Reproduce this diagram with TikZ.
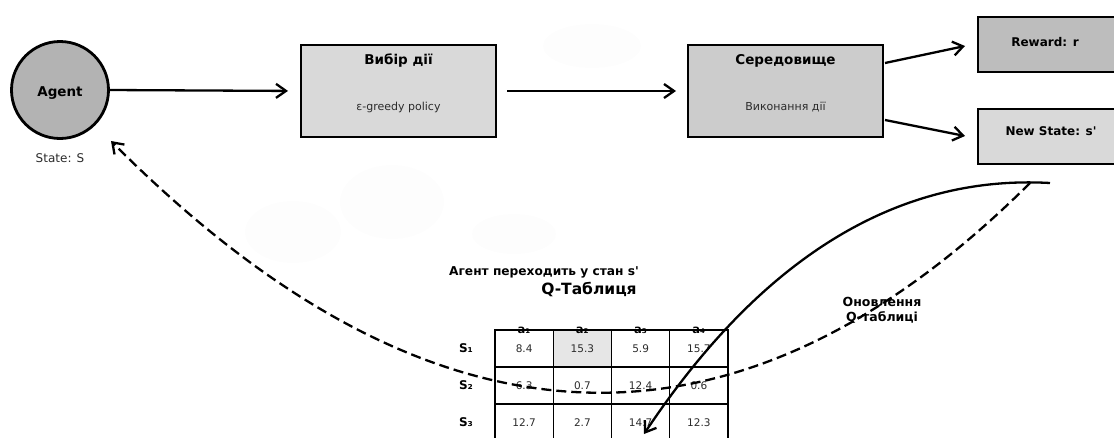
\documentclass[tikz,border=0pt]{standalone}
\usepackage{fontspec}
\setmainfont{DejaVu Sans}
\usetikzlibrary{arrows.meta}

\definecolor{agentgray}{HTML}{B3B3B3}
\definecolor{choicegray}{HTML}{D9D9D9}
\definecolor{envgray}{HTML}{CCCCCC}
\definecolor{rewardgray}{HTML}{BDBDBD}
\definecolor{stategray}{HTML}{D9D9D9}
\definecolor{cellgray}{HTML}{E6E6E6}
\definecolor{softtext}{HTML}{2B2B2B}
\definecolor{haze}{HTML}{FDFDFD}

\newcommand{\fsz}[1]{\fontsize{#1}{#1}\selectfont}

\begin{document}
\begin{tikzpicture}[x=1pt,y=-1pt,
  every node/.style={inner sep=0pt, outer sep=0pt},
  frame/.style={draw=black, line width=2.8pt, minimum width=195pt, minimum height=92pt},
  sidebox/.style={draw=black, line width=2.8pt, minimum width=152pt, minimum height=55pt},
  title/.style={anchor=base, font=\fsz{13.5}\bfseries},
  subtitle/.style={anchor=base, font=\fsz{11}, text=softtext},
  flow/.style={line width=2.3pt, -{Straight Barb[length=10pt,width=14pt]}},
  cell/.style={draw=black, line width=1.2pt, minimum width=58.25pt, minimum height=37pt,
               text height=7.6pt, text depth=0pt, font=\fsz{10.5}, text=softtext},
  head/.style={anchor=base, font=\fsz{11.5}\bfseries},
  rowhead/.style={anchor=base, font=\fsz{12}\bfseries},
  blob/.style={fill=haze, draw=none}
]
\useasboundingbox (0,0) rectangle (1114,437);
\clip (0,0) rectangle (1114,437);

% faint background clouds
\fill[blob] (592,46) ellipse [x radius=49pt, y radius=22pt];
\fill[blob] (392,202) ellipse [x radius=52pt, y radius=37pt];
\fill[blob] (293,232) ellipse [x radius=48pt, y radius=31pt];
\fill[blob] (514,234) ellipse [x radius=42pt, y radius=20pt];

% agent
\node[circle, draw=black, line width=2.8pt, fill=agentgray, minimum size=97pt] (agent) at (60,90) {};
\node[anchor=base, font=\fsz{13.5}\bfseries] (agentT) at (60,96) {Agent};
\node[anchor=base, font=\fsz{12}, text=softtext] (state) at (60,162) {State: S};

% action selection
\node[frame, fill=choicegray] (choose) at (398.5,91) {};
\node[title] (chooseT) at (398.5,64) {Вибір дії};
\node[subtitle] (chooseS) at (398.5,110) {ε-greedy policy};

% environment
\node[frame, fill=envgray] (env) at (785.5,91) {};
\node[title] (envT) at (785.5,64) {Середовище};
\node[subtitle] (envS) at (785.5,110) {Виконання дії};

% outcomes
\node[sidebox, fill=rewardgray] (reward) at (1054,44.5) {};
\node[anchor=base, font=\fsz{12}\bfseries] (rewardT) at (1045,46.5) {Reward: r};
\node[sidebox, fill=stategray] (newstate) at (1054,136.5) {};
\node[anchor=base, font=\fsz{12}\bfseries] (newstateT) at (1051,135.5) {New State: s\textquotesingle};

% main flow
\draw[flow, shorten >=13pt] (agent.east) -- (choose.west);
\draw[flow, shorten <=11pt, shorten >=12pt] (choose.east) -- (env.west);
\draw[flow] ([xshift=2pt,yshift=28pt]env.east) -- ([xshift=-13pt,yshift=-1.5pt]reward.west);
\draw[flow] ([xshift=2pt,yshift=-29pt]env.east) -- ([xshift=-13pt,yshift=0.5pt]newstate.west);

% table captions
\node[anchor=base, font=\fsz{12.2}\bfseries] (moveT) at (544,275.5) {Агент переходить у стан s\textquotesingle};
\node[anchor=base, font=\fsz{15.5}\bfseries] (qT) at (589,294.5) {Q-Таблиця};

% Q-table
\node[cell, fill=cellgray] (hl) at (582.35,348.5) {};
\foreach \v [count=\c] in {8.4,15.3,5.9,15.7}
  \node[cell] (q-1-\c) at ({524.1+58.25*(\c-1)},348.5) {\v};
\foreach \v [count=\c] in {6.3,0.7,12.4,0.6}
  \node[cell] (q-2-\c) at ({524.1+58.25*(\c-1)},385.5) {\v};
\foreach \v [count=\c] in {12.7,2.7,14.7,12.3}
  \node[cell] (q-3-\c) at ({524.1+58.25*(\c-1)},422.5) {\v};
\foreach \lab [count=\c] in {a₁,a₂,a₃,a₄}
  \node[head] (h-\c) at ({524.1+58.25*(\c-1)},333) {\lab};
\foreach \lab [count=\r] in {S₁,S₂,S₃}
  \node[rowhead] (s-\r) at (466,{352.5+37*(\r-1)}) {\lab};

% update label
\node[anchor=base, font=\fsz{12.5}\bfseries] (updT1) at (882,306.5) {Оновлення};
\node[anchor=base, font=\fsz{12.5}\bfseries] (updT2) at (882,321.5) {Q-таблиці};

% update curves
\coordinate (solidStart) at (1050,183);
\coordinate (solidEnd) at (644,434);
\coordinate (dashStart) at (1030,183);
\coordinate (dashEnd) at (111,141);
\draw[flow] (solidStart) .. controls (896.7,174.3) and (761,258.3) .. (solidEnd);
\draw[flow, dash pattern=on 10pt off 5pt] (dashStart) .. controls (736,475.7) and (430,461.7) .. (dashEnd);
\end{tikzpicture}
\end{document}
